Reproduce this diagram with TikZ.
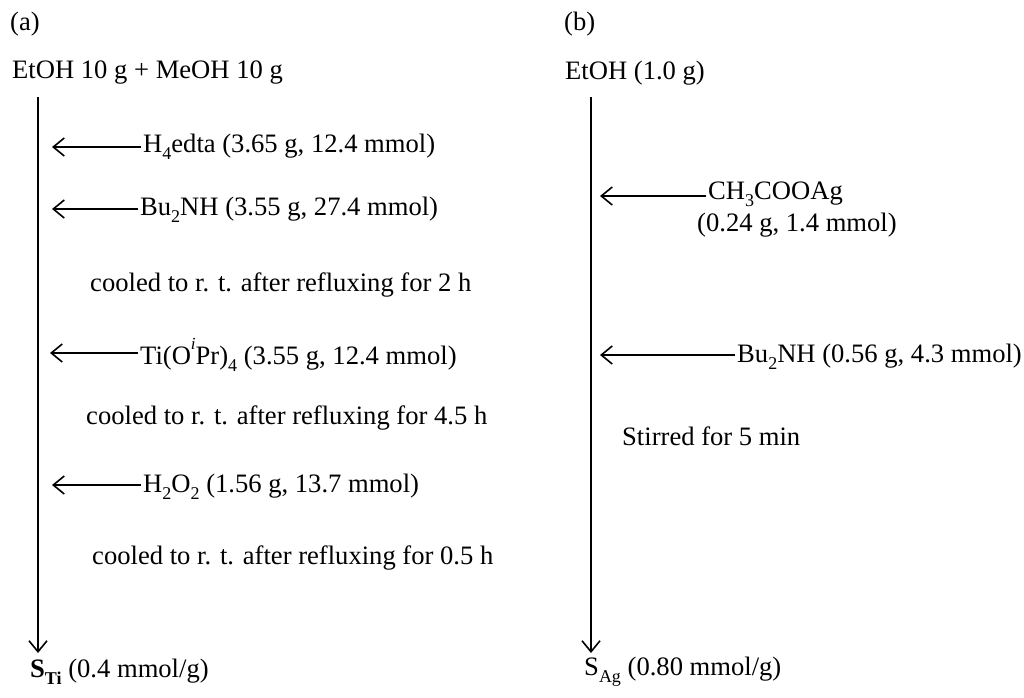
\documentclass[tikz,border=0pt]{standalone}
\usepackage{fontspec}
\setmainfont{Liberation Serif}
\usetikzlibrary{arrows.meta}
\newcommand{\mysb}[1]{\raisebox{-0.25em}{\fontsize{18}{20}\selectfont #1}}
\newcommand{\mysp}[1]{\raisebox{0.55em}{\fontsize{17}{20}\selectfont #1}}
\begin{document}
\begin{tikzpicture}[x=1pt,y=-1pt,
  lbl/.style={anchor=west,inner sep=0pt,font=\fontsize{26.6}{31}\selectfont},
  arr/.style={line width=1.6pt,-{Straight Barb[length=11pt,width=18pt,line width=1.6pt]}}]
\useasboundingbox (0,0) rectangle (1024,697);
\node[lbl] (a) at (10,24) {(a)};
\node[lbl] (atop) at (12,73) {EtOH 10 g + MeOH 10 g};
\coordinate (as) at (38,97); \coordinate (ae) at (38,653);
\draw[arr] (as) -- (ae);
\node[lbl] (a1) at (143,147) {H\mysb{4}edta (3.65 g, 12.4 mmol)};
\coordinate (a1e) at (52,147); \draw[arr] ([xshift=-2pt]a1.west|-a1e) -- (a1e);
\node[lbl] (a2) at (140,210) {Bu\mysb{2}NH (3.55 g, 27.4 mmol)};
\coordinate (a2e) at (52,209); \draw[arr] ([xshift=-2pt]a2.west|-a2e) -- (a2e);
\node[lbl] (a3) at (90,285) {cooled to r. t. after refluxing for 2 h};
\node[lbl] (a4) at (140,355) {Ti(O\mysp{\itshape i}Pr)\mysb{4} (3.55 g, 12.4 mmol)};
\coordinate (a4e) at (50,353); \draw[arr] ([xshift=-2pt]a4.west|-a4e) -- (a4e);
\node[lbl] (a5) at (86,418) {cooled to r. t. after refluxing for 4.5 h};
\node[lbl] (a6) at (143,487) {H\mysb{2}O\mysb{2} (1.56 g, 13.7 mmol)};
\coordinate (a6e) at (52,485); \draw[arr] ([xshift=-2pt]a6.west|-a6e) -- (a6e);
\node[lbl] (a7) at (92,558) {cooled to r. t. after refluxing for 0.5 h};
\node[lbl] (abot) at (30,672) {\textbf{S\mysb{\bfseries Ti}} (0.4 mmol/g)};

\node[lbl] (b) at (564,24) {(b)};
\node[lbl] (btop) at (565,73) {EtOH (1.0 g)};
\coordinate (bs) at (591,97); \coordinate (be) at (591,653);
\draw[arr] (bs) -- (be);
\node[lbl] (b1) at (708,194) {CH\mysb{3}COOAg};
\node[lbl] (b1b) at (697,225) {(0.24 g, 1.4 mmol)};
\coordinate (b1e) at (600,196); \draw[arr] ([xshift=-2pt]b1.west|-b1e) -- (b1e);
\node[lbl] (b2) at (737,357) {Bu\mysb{2}NH (0.56 g, 4.3 mmol)};
\coordinate (b2e) at (600,355); \draw[arr] ([xshift=-2pt]b2.west|-b2e) -- (b2e);
\node[lbl] (b3) at (622,436) {Stirred for 5 min};
\node[lbl] (bbot) at (584,672) {S\mysb{Ag} (0.80 mmol/g)};
\end{tikzpicture}
\end{document}
